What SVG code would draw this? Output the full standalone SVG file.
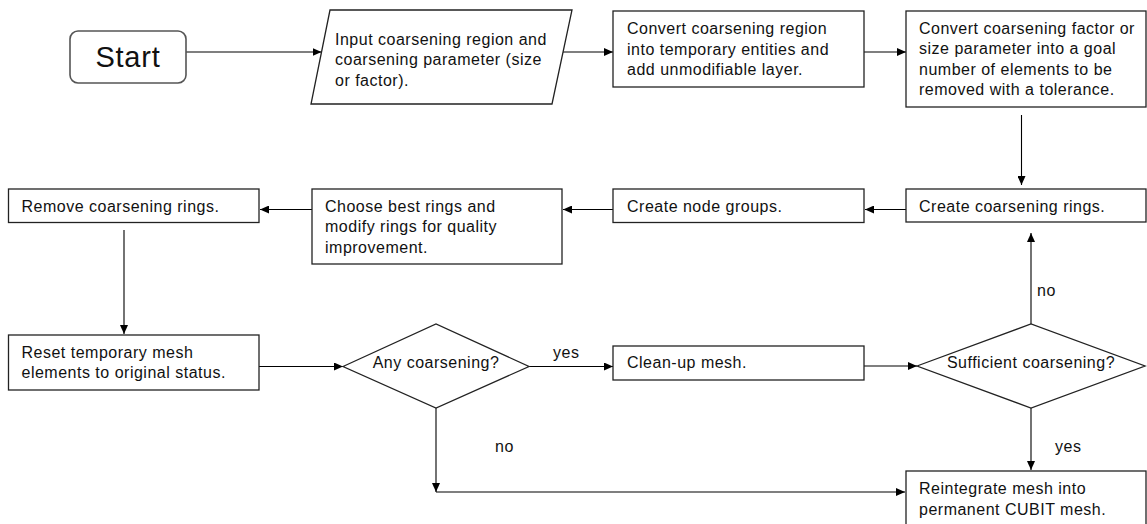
<svg xmlns="http://www.w3.org/2000/svg" width="1147" height="524" viewBox="0 0 1147 524">
<style>
.box{fill:#fff;stroke:#222;stroke-width:1.3}
.start{fill:#fff;stroke:#555;stroke-width:1.6}
.t{font-family:"Liberation Sans",Arial,sans-serif;font-size:16px;letter-spacing:0.5px;fill:#111}
.tm{text-anchor:middle}
.big{font-size:29px;letter-spacing:0.8px}
.c{fill:none;stroke:#000;stroke-width:1.1}
</style>
<defs>
<marker id="ah" markerUnits="userSpaceOnUse" markerWidth="9" markerHeight="8" refX="9" refY="4" orient="auto">
<path d="M0,0 L9,4 L0,8 z" fill="#000"/>
</marker>
</defs>
<g id="connectors">
<line class="c" x1="186" y1="52" x2="321.5" y2="52" marker-end="url(#ah)"/>
<line class="c" x1="563" y1="52" x2="613" y2="52" marker-end="url(#ah)"/>
<line class="c" x1="864" y1="52" x2="906" y2="52" marker-end="url(#ah)"/>
<line class="c" x1="1021.5" y1="115" x2="1021.5" y2="185" marker-end="url(#ah)"/>
<line class="c" x1="906" y1="209.5" x2="865" y2="209.5" marker-end="url(#ah)"/>
<line class="c" x1="613" y1="209.5" x2="563" y2="209.5" marker-end="url(#ah)"/>
<line class="c" x1="312" y1="209.5" x2="260" y2="209.5" marker-end="url(#ah)"/>
<line class="c" x1="124" y1="230" x2="124" y2="334" marker-end="url(#ah)"/>
<line class="c" x1="259" y1="366.5" x2="343" y2="366.5" marker-end="url(#ah)"/>
<line class="c" x1="529" y1="366.5" x2="613" y2="366.5" marker-end="url(#ah)"/>
<line class="c" x1="436" y1="408" x2="436" y2="492" marker-end="url(#ah)"/>
<line class="c" x1="436" y1="492" x2="905" y2="492" marker-end="url(#ah)"/>
<line class="c" x1="864" y1="366" x2="917" y2="366" marker-end="url(#ah)"/>
<line class="c" x1="1031" y1="324" x2="1031" y2="233" marker-end="url(#ah)"/>
<line class="c" x1="1031" y1="408" x2="1031" y2="470" marker-end="url(#ah)"/>
<text class="t" x="553" y="358">yes</text>
<text class="t" x="495" y="452">no</text>
<text class="t" x="1037" y="295.5">no</text>
<text class="t" x="1055" y="452">yes</text>
</g>
<g id="start">
<rect class="start" x="70" y="31" width="116" height="52" rx="8"/>
<text class="t tm big" x="128" y="67">Start</text>
</g>
<g id="input">
<polygon class="box" points="330,10 572,10 552,104 311,104"/>
<text class="t" x="335" y="44.5">Input coarsening region and</text>
<text class="t" x="335" y="65">coarsening parameter (size</text>
<text class="t" x="335" y="85.5">or factor).</text>
</g>
<g id="convert-region">
<rect class="box" x="613" y="11" width="251" height="76"/>
<text class="t" x="627" y="34">Convert coarsening region</text>
<text class="t" x="627" y="54.5">into temporary entities and</text>
<text class="t" x="627" y="75">add unmodifiable layer.</text>
</g>
<g id="convert-factor">
<rect class="box" x="906" y="11" width="240" height="96"/>
<text class="t" x="919" y="33.5">Convert coarsening factor or</text>
<text class="t" x="919" y="54">size parameter into a goal</text>
<text class="t" x="919" y="74.5">number of elements to be</text>
<text class="t" x="919" y="95">removed with a tolerance.</text>
</g>
<g id="create-rings">
<rect class="box" x="906" y="189" width="240" height="33"/>
<text class="t" x="919" y="211.5">Create coarsening rings.</text>
</g>
<g id="node-groups">
<rect class="box" x="613" y="189" width="251" height="33.5"/>
<text class="t" x="627" y="211.5">Create node groups.</text>
</g>
<g id="choose-rings">
<rect class="box" x="312" y="189" width="250" height="75"/>
<text class="t" x="325" y="211.5">Choose best rings and</text>
<text class="t" x="325" y="232">modify rings for quality</text>
<text class="t" x="325" y="252.5">improvement.</text>
</g>
<g id="remove-rings">
<rect class="box" x="8.5" y="189" width="250.5" height="33.5"/>
<text class="t" x="21.5" y="211.5">Remove coarsening rings.</text>
</g>
<g id="reset">
<rect class="box" x="8.5" y="335" width="250.5" height="55"/>
<text class="t" x="21.5" y="357.5">Reset temporary mesh</text>
<text class="t" x="21.5" y="378">elements to original status.</text>
</g>
<g id="any-coarsening">
<polygon class="box" points="343,366.5 436,324 529,366.5 436,408"/>
<text class="t tm" x="436" y="368">Any coarsening?</text>
</g>
<g id="cleanup">
<rect class="box" x="613" y="346" width="251" height="34"/>
<text class="t" x="627" y="367.5">Clean-up mesh.</text>
</g>
<g id="sufficient">
<polygon class="box" points="917,366 1031,324 1145,366 1031,408"/>
<text class="t tm" x="1031" y="368">Sufficient coarsening?</text>
</g>
<g id="reintegrate">
<rect class="box" x="906" y="471" width="240" height="70"/>
<text class="t" x="919" y="494">Reintegrate mesh into</text>
<text class="t" x="919" y="514.5">permanent CUBIT mesh.</text>
</g>
</svg>
